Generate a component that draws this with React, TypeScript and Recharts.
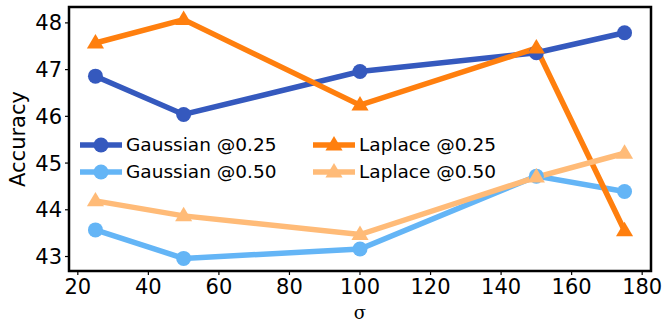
import React from "react";
import { LineChart, Line, XAxis, YAxis, ReferenceArea } from "recharts";

const sigma = [25, 50, 100, 150, 175];
const gaussian025 = [46.86, 46.04, 46.96, 47.36, 47.79];
const gaussian050 = [43.57, 42.96, 43.16, 44.72, 44.39];
const laplace025 = [47.57, 48.07, 46.24, 47.46, 43.55];
const laplace050 = [44.19, 43.87, 43.47, 44.7, 45.21];

const xTicks = [20, 40, 60, 80, 100, 120, 140, 160, 180];
const yTicks = [43, 44, 45, 46, 47, 48];
const xDomain: [number, number] = [17.5, 182.5];
const yDomain: [number, number] = [42.69, 48.34];

const data = sigma.map((s, i) => ({
  sigma: s,
  g25: gaussian025[i],
  g50: gaussian050[i],
  l25: laplace025[i],
  l50: laplace050[i]
}));

const series = [
  { key: "g25", name: "Gaussian @0.25", color: "#3559be", marker: "circle" },
  { key: "g50", name: "Gaussian @0.50", color: "#64b5f6", marker: "circle" },
  { key: "l25", name: "Laplace @0.25", color: "#ff7f0e", marker: "triangle" },
  { key: "l50", name: "Laplace @0.50", color: "#ffbb78", marker: "triangle" }
];

const font = "'DejaVu Sans', sans-serif";
const tickStyle = { fill: "#000", fontSize: 21, fontFamily: font };

function markerShape(marker: string, color: string, cx: number, cy: number, k?: string) {
  if (marker === "circle") {
    return <circle key={k} cx={cx} cy={cy} r={7.5} fill={color} />;
  }
  const r = 9;
  const pts = `${cx},${cy - r} ${cx + r * 0.95},${cy + r * 0.6} ${cx - r * 0.95},${cy + r * 0.6}`;
  return <polygon key={k} points={pts} fill={color} />;
}

function LegendBox() {
  const order = [series[0], series[2], series[1], series[3]];
  return (
    <div
      style={{
        position: "absolute",
        left: 79,
        top: 132,
        display: "grid",
        gridTemplateColumns: "233px 200px",
        rowGap: 2,
        fontFamily: font,
        fontSize: 18.5,
        color: "#000"
      }}
    >
      {order.map((s) => (
        <div key={s.key} style={{ display: "flex", alignItems: "center", height: 25 }}>
          <svg width={44} height={24} style={{ marginRight: 3 }}>
            <line x1={1} y1={12} x2={43} y2={12} stroke={s.color} strokeWidth={5.5} />
            {markerShape(s.marker, s.color, 22, 12)}
          </svg>
          <span>{s.name}</span>
        </div>
      ))}
    </div>
  );
}

export default function App() {
  return (
    <div style={{ position: "relative", width: 665, height: 324, background: "#fff" }}>
      <style>{"body{margin:0}"}</style>
      <LineChart width={665} height={324} data={data} margin={{ top: 7, right: 14, bottom: 23, left: 0 }}>
        <XAxis
          dataKey="sigma"
          type="number"
          domain={xDomain}
          ticks={xTicks}
          tick={tickStyle}
          tickSize={4}
          tickMargin={4}
          height={30}
          axisLine={false}
          tickLine={{ stroke: "#000", strokeWidth: 1.2 }}
          label={{ value: "σ", position: "bottom", offset: 5, style: { fill: "#000", fontSize: 18, fontFamily: "'DejaVu Serif', serif" } }}
        />
        <YAxis
          domain={yDomain}
          ticks={yTicks}
          tick={tickStyle}
          tickSize={4}
          tickMargin={3}
          width={69}
          axisLine={false}
          tickLine={{ stroke: "#000", strokeWidth: 1.2 }}
          label={{ value: "Accuracy", angle: -90, position: "insideLeft", offset: 18, style: { fill: "#000", fontSize: 21, fontFamily: font, textAnchor: "middle" } }}
        />
        {series.map((s) => (
          <Line
            key={s.key}
            type="linear"
            dataKey={s.key}
            name={s.name}
            stroke={s.color}
            strokeWidth={5.5}
            isAnimationActive={false}
            dot={(p: any) => markerShape(s.marker, s.color, p.cx, p.cy, `${s.key}-${p.index}`)}
            activeDot={false}
          />
        ))}
        <ReferenceArea
          x1={xDomain[0]}
          x2={xDomain[1]}
          y1={yDomain[0]}
          y2={yDomain[1]}
          fill="none"
          stroke="#000"
          strokeWidth={2.5}
          fillOpacity={0}
          strokeOpacity={1}
        />
      </LineChart>
      <LegendBox />
    </div>
  );
}
